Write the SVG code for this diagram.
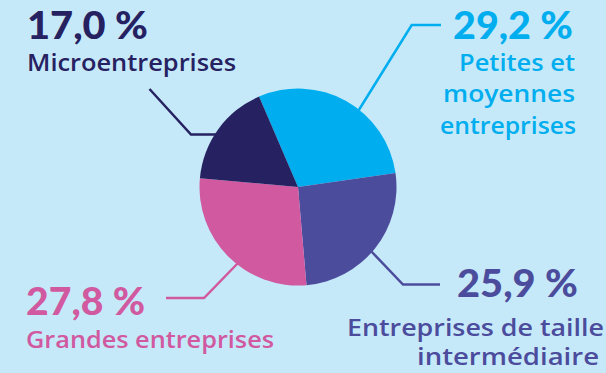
<svg xmlns="http://www.w3.org/2000/svg" width="606" height="373" viewBox="0 0 606 373">
<style>
.pct{font-family:Lato,"Noto Sans","DejaVu Sans",sans-serif;font-weight:900;font-size:38px}
.lbl{font-family:"Open Sans","Noto Sans","DejaVu Sans",sans-serif;font-weight:600;font-size:24px}
.sm{font-size:23px}
.ln{fill:none;stroke-width:2.5}
.navy{fill:#262262}.cyan{fill:#00aeef}.purple{fill:#4c4c9d}.pink{fill:#d059a0}
</style>
<rect width="606" height="373" fill="#c6e9f9"/>
<g id="connectors">
<path class="ln" stroke="#262262" d="M149.5,89 L191,134.5 L218,134.5"/>
<path class="ln" stroke="#00aeef" d="M441,25 L411.7,25 L357,113"/>
<path class="ln" stroke="#d059a0" d="M166,298 L204,298 L239,262"/>
<path class="ln" stroke="#4c4c9d" d="M370,250 L403,284.5 L440,284.5"/>
</g>
<g id="pie">
<path class="cyan" d="M298,187 L259.04,96.53 A98.5,98.5 0 0 1 395.50,172.99 Z"/>
<path class="purple" d="M298,187 L395.50,172.99 A98.5,98.5 0 0 1 306.48,285.13 Z"/>
<path class="pink" d="M298,187 L306.48,285.13 A98.5,98.5 0 0 1 199.90,178.18 Z"/>
<path class="navy" d="M298,187 L199.90,178.18 A98.5,98.5 0 0 1 259.04,96.53 Z"/>
</g>
<g id="micro">
<text class="pct navy" x="27" y="39" textLength="121" lengthAdjust="spacingAndGlyphs">17,0 %</text>
<text class="lbl navy" x="27" y="71" textLength="209" lengthAdjust="spacingAndGlyphs">Microentreprises</text>
</g>
<g id="pme">
<text class="pct cyan" x="453" y="39" textLength="120" lengthAdjust="spacingAndGlyphs">29,2 %</text>
<text class="lbl cyan" x="459" y="71" textLength="116" lengthAdjust="spacingAndGlyphs">Petites et</text>
<text class="lbl cyan" x="443" y="102" textLength="132" lengthAdjust="spacingAndGlyphs">moyennes</text>
<text class="lbl cyan" x="440" y="134" textLength="136" lengthAdjust="spacingAndGlyphs">entreprises</text>
</g>
<g id="grandes">
<text class="pct pink" x="26" y="315" textLength="119" lengthAdjust="spacingAndGlyphs">27,8 %</text>
<text class="lbl pink" x="26" y="348" textLength="248" lengthAdjust="spacingAndGlyphs">Grandes entreprises</text>
</g>
<g id="eti">
<text class="pct purple" x="457" y="297" textLength="121" lengthAdjust="spacingAndGlyphs">25,9 %</text>
<text class="lbl sm purple" x="347" y="336" textLength="257" lengthAdjust="spacingAndGlyphs">Entreprises de taille</text>
<text class="lbl sm purple" x="417" y="365" textLength="182" lengthAdjust="spacingAndGlyphs">intermédiaire</text>
</g>
</svg>
